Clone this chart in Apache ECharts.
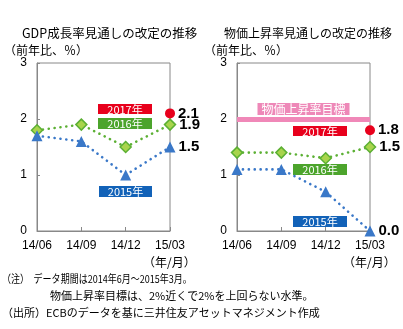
<!DOCTYPE html>
<html><head><meta charset="utf-8">
<script src="https://cdn.jsdelivr.net/npm/echarts@6/dist/echarts.min.js"></script>
<style>html,body{margin:0;padding:0;background:#fff}#c{width:403px;height:329px}</style>
</head><body><div id="c"></div>
<script>
const categories = ['14/06','14/09','14/12','15/03'];
const gdp2015 = [1.7, 1.6, 1.0, 1.5];
const gdp2016 = [1.8, 1.9, 1.5, 1.9];
const gdp2017 = [null, null, null, 2.1];
const cpi2015 = [1.1, 1.1, 0.7, 0.0];
const cpi2016 = [1.4, 1.4, 1.3, 1.5];
const cpi2017 = [null, null, null, 1.8];
const cpiTarget = 2;
const yTicks = [0, 1, 2, 3];
const titles = ['GDP成長率見通しの改定の推移', '物価上昇率見通しの改定の推移'];
const unitLabel = '（前年比、％）';
const xUnit = '（年/月）';
const notes = ['（注）　データ期間は2014年6月～2015年3月。', '物価上昇率目標は、2%近くで2%を上回らない水準。', '（出所）ECBのデータを基に三井住友アセットマネジメント作成'];

const JP = '"Noto Sans CJK JP", sans-serif';
const BLUE = '#3a78c8', GREEN = '#5cb034', RED = '#e8001c';
const chart = echarts.init(document.getElementById('c'));

function grid(left){ return {left:left, top:63, width:133, height:168, show:true, borderColor:'#888', borderWidth:1}; }
function xAxis(i){ return {type:'category', gridIndex:i, data:categories, boundaryGap:false,
  axisLine:{show:true, lineStyle:{color:'#888'}}, axisTick:{show:true, inside:true, length:4, interval:0, lineStyle:{color:'#888'}},
  axisLabel:{color:'#000', fontFamily:'"Liberation Sans", sans-serif', fontSize:12, margin:9, interval:0, hideOverlap:false}, splitLine:{show:false}}; }
function yAxis(i){ return {type:'value', gridIndex:i, min:yTicks[0], max:yTicks[yTicks.length-1], interval:1,
  axisLine:{show:true, lineStyle:{color:'#888'}}, axisTick:{show:true, inside:true, length:3, lineStyle:{color:'#888'}},
  axisLabel:{color:'#000', fontFamily:'"Liberation Sans", sans-serif', fontSize:12, margin:10}, splitLine:{show:false}}; }
const valLabel = {show:true, position:'right', distance:3, color:'#000', fontFamily:'"Liberation Sans", Arial, sans-serif', fontWeight:'bold', fontSize:15,
  formatter:p => p.dataIndex === categories.length-1 ? p.value.toFixed(1) : ''};
function dotted(name, data, color, sym, i, z){
  const isD = sym === 'diamond';
  return {type:'line', name:name, data:data, xAxisIndex:i, yAxisIndex:i, symbol:sym, symbolSize: isD?11:11,
    itemStyle: isD ? {color:'#a8d44c', borderColor:color, borderWidth:1.5} : {color:color},
    lineStyle:{color:color, width:2.6, type:[0.1,5.8], cap:'round'}, label:valLabel, z:z||2, animation:false};
}
function point(name, data, i){
  return {type:'line', name:name, data:data, xAxisIndex:i, yAxisIndex:i, symbol:'circle', symbolSize:10,
    itemStyle:{color:RED}, lineStyle:{width:0}, label:valLabel, z:3, animation:false};
}
function tag(text, x, y, w, h, fill){
  return {type:'group', left:x, top:y, children:[
    {type:'rect', shape:{x:0,y:0,width:w,height:h}, style:{fill:fill}},
    {type:'text', style:{text:text, x:w/2, y:h/2+0.5, align:'center', verticalAlign:'middle', fill:'#fff', font:'11px '+JP}}]};
}
function txt(text, x, y, size, sx){
  const t = {type:'text', left:x, top:y, style:{text:text, fill:'#000', font:(size||12)+'px '+JP}};
  if (sx) { t.scaleX = sx; }
  return t;
}

const cpiSeries2016 = dotted('2016年', cpi2016, GREEN, 'diamond', 1);
cpiSeries2016.markLine = {silent:true, symbol:'none', animation:false,
  lineStyle:{color:'#f088b8', width:5, type:'solid'},
  label:{show:true, position:'insideMiddleTop', distance:4, formatter:'物価上昇率目標', color:'#fff', backgroundColor:'#ee88b8',
    fontFamily:JP, fontSize:12, padding:[0,4,0,4]},
  data:[{yAxis:cpiTarget}]};

chart.setOption({
  animation:false,
  grid:[grid(37), grid(237)],
  xAxis:[xAxis(0), xAxis(1)],
  yAxis:[yAxis(0), yAxis(1)],
  series:[
    dotted('2016年', gdp2016, GREEN, 'diamond', 0),
    dotted('2015年', gdp2015, BLUE, 'triangle', 0),
    point('2017年', gdp2017, 0),
    cpiSeries2016,
    dotted('2015年', cpi2015, BLUE, 'triangle', 1),
    point('2017年', cpi2017, 1)
  ],
  graphic:[
    txt(titles[0], 22, 27, 12.5), txt(unitLabel, 4, 44, 12),
    txt(titles[1], 224, 27, 12), txt(unitLabel, 204, 44, 12),
    txt(xUnit, 143, 256, 12), txt(xUnit, 343, 256, 12),
    tag('2017年', 98, 104, 54, 10, RED), tag('2016年', 98, 118, 54, 11, '#4ca42c'), tag('2015年', 99, 186, 53, 11, '#1262b8'),
    tag('2017年', 293, 126, 54, 10, RED), tag('2016年', 293, 164, 54, 11, '#4ca42c'), tag('2015年', 293, 216, 54, 11, '#1262b8'),
    txt(notes[0], 2, 273, 11, 0.82), txt(notes[1], 50, 290, 11), txt(notes[2], 2, 307, 11)
  ]
});
</script></body></html>
